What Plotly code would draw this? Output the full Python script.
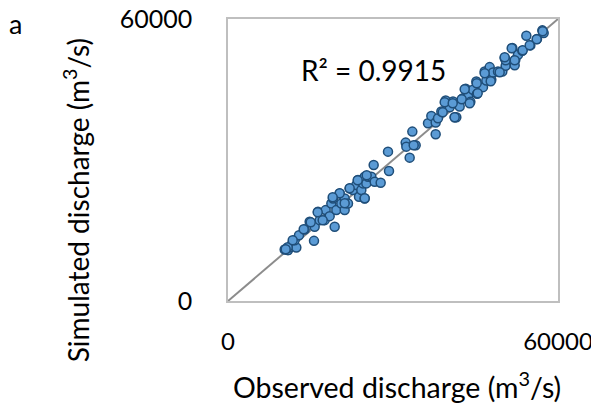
import plotly.graph_objects as go

# Observed vs simulated discharge (m3/s)
observed = [
    10303, 10909, 11212, 11697, 12424, 12121, 12909, 13939, 14848, 15636,
    15758, 16364, 16667, 17576, 17758, 18485, 18788, 19091, 19394, 19697,
    20303, 20606, 21212, 21212, 21818, 22121, 22727, 23333, 23636, 23818,
    24242, 24545, 24848, 24848, 25152, 25455, 26061, 26485, 26667, 27758,
    29273, 29091, 32303, 32424, 33030, 33515, 34121, 36364, 36970, 37758,
    37758, 38182, 38788, 39576, 40303, 40909, 41212, 41515, 42121, 42727,
    43212, 43636, 44061, 44545, 45152, 45273, 46364, 46667, 46970, 47576,
    47879, 48182, 49091, 49879, 50303, 50485, 51697, 52242, 52727, 53515,
    54242, 54970, 56182, 57152, 57394,
    10854, 13763, 17216, 25216, 24852, 21216, 22125, 20307, 33762, 41216,
    39397, 42489, 43034, 46670, 51579, 53579, 57215, 45216, 39034, 40852,
    43943, 45397, 47761, 49397, 50488, 52125, 56125, 54852, 52125, 50306,
    10490, 11762, 15036, 16307, 19035, 23580,
]
simulated = [
    10948, 10806, 11374, 12227, 11374, 12938, 14005, 15213, 16848, 12796,
    15782, 18981, 17204, 17204, 19336, 18057, 20758, 21825, 15782, 19336,
    22891, 20758, 21825, 19336, 20758, 23957, 23602, 24668, 25735, 22180,
    23602, 25024, 26446, 21825, 25024, 26446, 26446, 28934, 25379, 25166,
    27654, 31777, 33697, 32844, 30498, 36043, 33128, 37820, 39384, 37962,
    35474, 38886, 40308, 42654, 41232, 42441, 39100, 39100, 41374, 43152,
    45142, 43507, 42370, 44929, 46706, 44076, 45498, 48839, 46919, 49763,
    47061, 48626, 48839, 48839, 51683, 50047, 53815, 51327, 52393, 53246,
    56446, 54384, 55735, 57584, 57015,
    11427, 15258, 17173, 26750, 21855, 20790, 23983, 22919, 33132, 39090,
    42283, 42922, 45050, 48454, 53775, 53349, 57392, 46329, 40154, 42070,
    42070, 44198, 46752, 48667, 51222, 50157, 55687, 54411, 51222, 51860,
    11000, 12917, 16748, 18875, 22067, 25684,
]
line_1to1 = [0, 60000]
tick_vals = [0, 60000]
tick_text = ["0", "60000"]

font_name = "Lato"

fig = go.Figure()

# 1:1 line
fig.add_trace(go.Scatter(x=line_1to1, y=line_1to1, mode="lines",
                         line=dict(color="#8C8C8C", width=2),
                         hoverinfo="skip", showlegend=False))

fig.add_trace(go.Scatter(x=observed, y=simulated, mode="markers",
                         marker=dict(size=9, color="#5B9BD5",
                                     line=dict(color="#1F4E79", width=1.5)),
                         showlegend=False))

axis_style = dict(range=[0, 60000],
                  tickvals=tick_vals,
                  ticktext=tick_text,
                  showgrid=False,
                  zeroline=False,
                  showline=True,
                  linecolor="#BFBFBF",
                  linewidth=1.5,
                  mirror=True,
                  automargin=False,
                  ticklabeloverflow="allow",
                  ticks="outside",
                  tickcolor="rgba(0,0,0,0)")

def label(text, x, y, size=27, angle=0):
    return dict(text=text, x=x, y=y, xref="paper", yref="paper",
                xanchor="center", yanchor="middle", textangle=angle,
                showarrow=False,
                font=dict(family=font_name, size=size, color="black"))

# page body adds 8px margin, so the figure is 8px smaller than the window
fig.update_layout(width=591, height=402,
                  margin=dict(l=220, r=41, t=11, b=109),
                  plot_bgcolor="white",
                  paper_bgcolor="white",
                  xaxis=dict(axis_style, ticklen=18,
                             tickfont=dict(family=font_name, size=24, color="black")),
                  yaxis=dict(axis_style, ticklen=29,
                             tickfont=dict(family=font_name, size=25, color="black")),
                  font=dict(family=font_name, size=25, color="black"),
                  annotations=[
                      label("R² = 0.9915", 0.442, 0.819, size=28),
                      label("a", -0.645, 0.985),
                      label("Simulated discharge (m<sup>3</sup>/s)", -0.46, 0.358, size=28, angle=-90),
                      label("Observed discharge (m<sup>3</sup>/s)", 0.512, -0.298, size=28.5),
                  ])

fig.write_html("out.html")
